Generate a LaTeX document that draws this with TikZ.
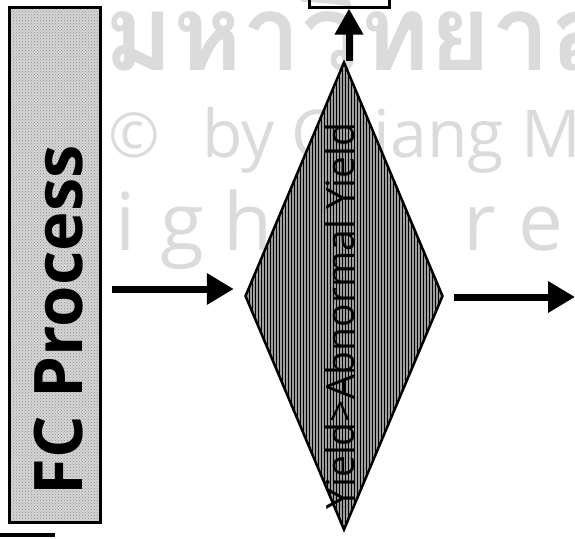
\documentclass[tikz,border=0pt]{standalone}
\usepackage{fontspec}
\usetikzlibrary{arrows.meta,positioning,shapes.geometric,patterns}
\newfontfamily\sansfont{Open Sans}
\newfontfamily\thaifont[Script=Thai]{Loma}

\begin{document}
\begin{tikzpicture}[
  x=1pt, y=-1pt,
  procbox/.style={draw, line width=3.5pt, preaction={fill=black!16}, pattern=crosshatch dots, pattern color=black!45, minimum width=91pt, minimum height=515pt, inner sep=0pt},
  decision/.style={diamond, draw, line width=2.5pt, preaction={fill=black!38}, pattern=vertical lines, minimum width=198pt, minimum height=468pt, inner sep=0pt},
  endbox/.style={draw, line width=3pt, minimum width=80pt, minimum height=40pt, inner sep=0pt},
  flow/.style={line width=7pt, -{Triangle[length=27pt, width=30pt]}},
  upflow/.style={line width=7pt, -{Triangle[length=26pt, width=27pt]}},
  wmark/.style={text=black!14, inner sep=0pt}
]
\useasboundingbox (0,0) rectangle (575,538);
% watermark
\node[wmark, anchor=base west, font=\thaifont\bfseries\fontsize{105}{105}\selectfont] (wm1) at (104,70) {มหาวิทยาลัย};
\node[wmark, anchor=base west, font=\sansfont\fontsize{62}{62}\selectfont] (wm2) at (108,157) {©};
\node[wmark, anchor=base west, font=\sansfont\fontsize{66}{66}\selectfont] (wm3) at (202,157) {by Chiang Mai};
\foreach \ch/\px in {i/126, g/182, h/248, r/480, e/541}
  \node[wmark, anchor=base, font=\sansfont\fontsize{80}{80}\selectfont] at (\px,250) {\ch};

% boxes
\node[procbox] (fc) at (55,265) {};
\node[rotate=90, font=\sansfont\bfseries\fontsize{67}{67}\selectfont] (fclabel) at (59,320) {FC Process};
\node[decision] (check) at (344,296) {};
\node[rotate=90, font=\sansfont\fontsize{39}{39}\selectfont] (checklabel) at (340,316) {Yield>Abnormal Yield};
\node[endbox] (next) at (349,-13) {};
\coordinate (out) at (575,297);
\draw[line width=4pt] (0,535) -- (55,535);

% arrows
\draw[flow, shorten <=10pt, shorten >=10pt] (fc.east |- 0,289) -- (check.west |- 0,289);
\draw[flow, shorten <=10pt] (check.east |- out) -- (out);
\draw[upflow] (check.north -| next.south) -- (next.south);
\end{tikzpicture}
\end{document}
